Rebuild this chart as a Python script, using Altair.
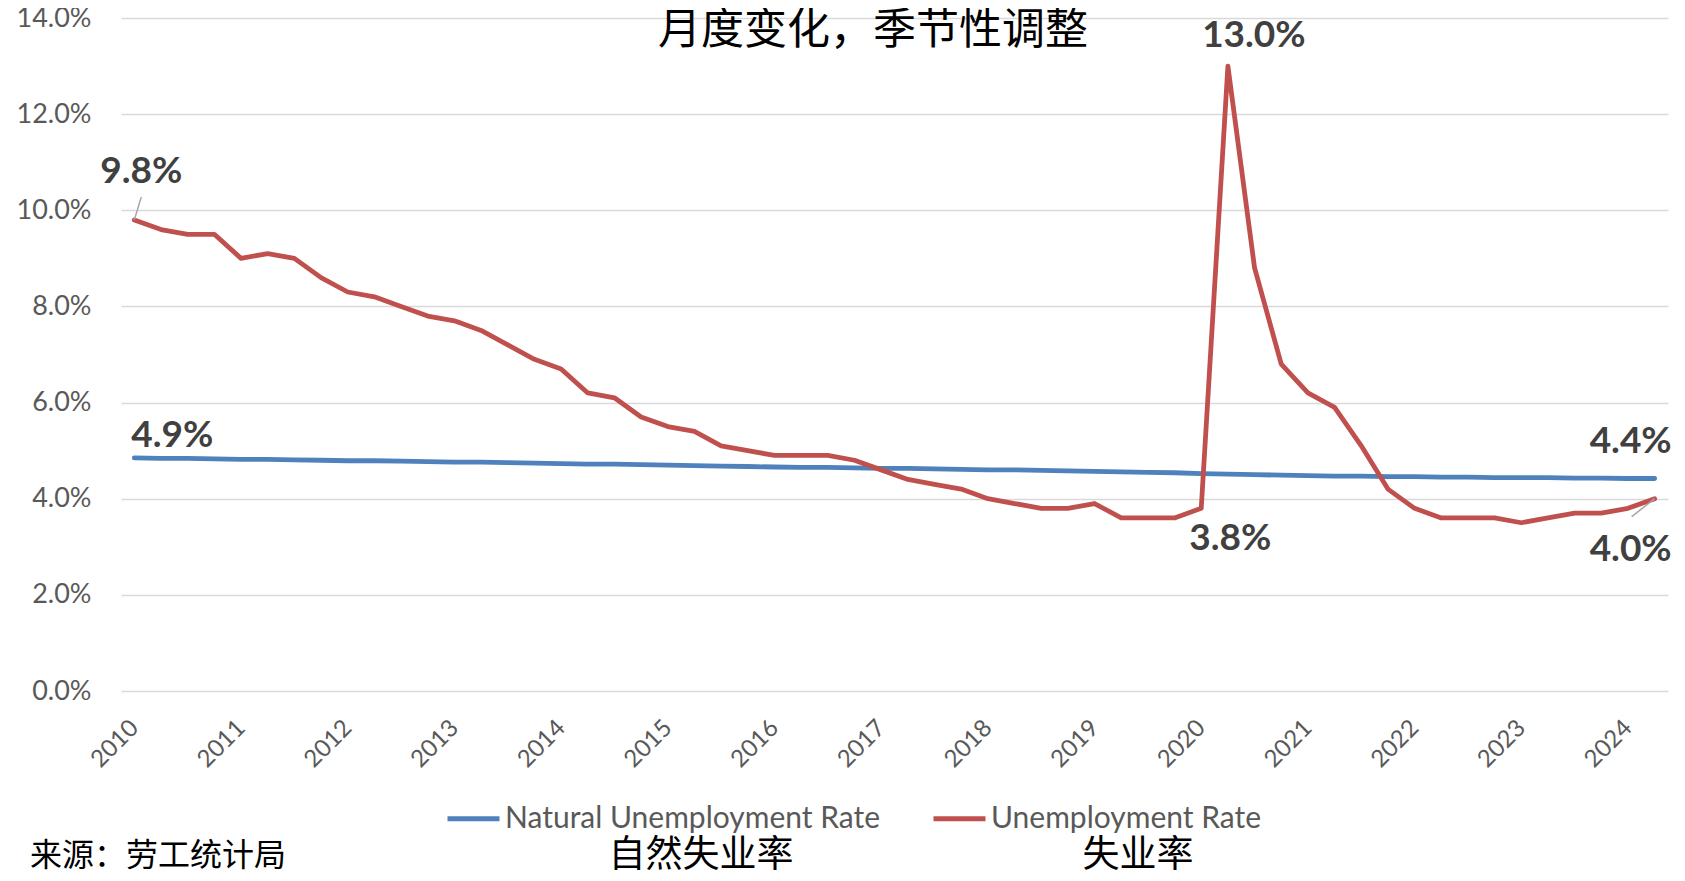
import altair as alt
import pandas as pd

# ---- data (quarterly 2010Q1 .. 2024Q2) ----
years = [y for y in range(2010, 2025) for _ in range(4)][:58]
quarters = [q for _ in range(2010, 2025) for q in range(1, 5)][:58]

unemployment = [
    9.8, 9.6, 9.5, 9.5,
    9.0, 9.1, 9.0, 8.6,
    8.3, 8.2, 8.0, 7.8,
    7.7, 7.5, 7.2, 6.9,
    6.7, 6.2, 6.1, 5.7,
    5.5, 5.4, 5.1, 5.0,
    4.9, 4.9, 4.9, 4.8,
    4.6, 4.4, 4.3, 4.2,
    4.0, 3.9, 3.8, 3.8,
    3.9, 3.6, 3.6, 3.6,
    3.8, 13.0, 8.8, 6.8,
    6.2, 5.9, 5.1, 4.2,
    3.8, 3.6, 3.6, 3.6,
    3.5, 3.6, 3.7, 3.7,
    3.8, 4.0,
]

natural = [
    4.85, 4.84, 4.84, 4.83,
    4.82, 4.82, 4.81, 4.80,
    4.79, 4.79, 4.78, 4.77,
    4.76, 4.76, 4.75, 4.74,
    4.73, 4.72, 4.72, 4.71,
    4.70, 4.69, 4.68, 4.67,
    4.66, 4.65, 4.65, 4.64,
    4.63, 4.63, 4.62, 4.61,
    4.60, 4.60, 4.59, 4.58,
    4.57, 4.56, 4.55, 4.54,
    4.52, 4.51, 4.50, 4.49,
    4.48, 4.47, 4.47, 4.46,
    4.46, 4.45, 4.45, 4.44,
    4.44, 4.44, 4.43, 4.43,
    4.42, 4.42,
]

series_names = ["Natural Unemployment Rate", "Unemployment Rate"]
series_colors = ["#4F81BD", "#C0504D"]
year_ticks = list(range(2010, 2025))
y_ticks = [0, 0.02, 0.04, 0.06, 0.08, 0.10, 0.12, 0.14]

title_text = "月度变化，季节性调整"
source_text = "来源：劳工统计局"
cn_natural = "自然失业率"
cn_unemp = "失业率"

# annotations: (label, series, quarter index)
ann_labels = ["9.8%", "4.9%", "13.0%", "3.8%", "4.4%", "4.0%"]
ann_series = [1, 0, 1, 1, 0, 1]
ann_index = [0, 0, 41, 40, 57, 57]

# ---- build tables ----
t_vals = [y + (q - 1) / 4 for y, q in zip(years, quarters)]
rows = []
for t, n, u in zip(t_vals, natural, unemployment):
    rows.append({"t": t, "v": n / 100, "series": series_names[0]})
    rows.append({"t": t, "v": u / 100, "series": series_names[1]})
df = pd.DataFrame(rows)

def ann_df(k):
    s = ann_series[k]
    i = ann_index[k]
    vals = natural if s == 0 else unemployment
    return pd.DataFrame([{"t": t_vals[i], "v": vals[i] / 100, "label": ann_labels[k]}])

LABEL_FONT = "Lato"
CJK_FONT = "Noto Sans CJK SC"

x_enc = alt.X(
    "t:Q",
    scale=alt.Scale(domain=[2009.875, 2024.375], nice=False, zero=False),
    axis=alt.Axis(
        values=year_ticks, format="d", labelAngle=-45, labelAlign="right",
        labelBaseline="middle", labelPadding=33, grid=False, ticks=False,
        tickSize=0, domain=False, labelFontSize=24, labelColor="#595959",
        labelFont=LABEL_FONT, title=None, labelOverlap=False, labelFlush=False,
    ),
)
y_enc = alt.Y(
    "v:Q",
    scale=alt.Scale(domain=[0, 0.14], nice=False),
    axis=alt.Axis(
        values=y_ticks, format=".1%", grid=True, gridColor="#D9D9D9",
        gridWidth=1.5, ticks=False, tickSize=0, domain=False,
        labelPadding=30, labelFontSize=27, labelColor="#595959",
        labelFont=LABEL_FONT, title=None,
    ),
)

lines = alt.Chart(df).mark_line(strokeWidth=4.8, strokeJoin="round", strokeCap="round").encode(
    x=x_enc,
    y=y_enc,
    color=alt.Color(
        "series:N",
        scale=alt.Scale(domain=series_names, range=series_colors),
        legend=alt.Legend(
            title=None, orient="none", legendX=324, legendY=772,
            direction="horizontal", symbolType="stroke", symbolStrokeWidth=5,
            symbolSize=2704, labelFontSize=30, labelFont=LABEL_FONT,
            labelColor="#595959", labelOffset=3, columnPadding=42,
            padding=0, labelLimit=1000,
        ),
    ),
)

ann_style = dict(font=LABEL_FONT, fontSize=37, fontWeight="bold", color="#404040")
ann_pos = [
    dict(dx=7, dy=-37, align="center", baseline="alphabetic"),
    dict(dx=-3, dy=-11, align="left", baseline="alphabetic"),
    dict(dx=26, dy=-19, align="center", baseline="alphabetic"),
    dict(dx=29, dy=42, align="center", baseline="alphabetic"),
    dict(dx=-24, dy=-26, align="center", baseline="alphabetic"),
    dict(dx=-24, dy=62, align="center", baseline="alphabetic"),
]
ann_layers = []
for k in range(len(ann_labels)):
    ann_layers.append(
        alt.Chart(ann_df(k)).mark_text(**ann_style, **ann_pos[k]).encode(
            x="t:Q", y="v:Q", text="label:N"
        )
    )

# leader lines (anchored on the data points, drawn as a small path symbol)
leader1 = alt.Chart(ann_df(0)).mark_point(
    shape="M0,0L0.304,-1", size=2116, filled=False, stroke="#A6A6A6", strokeWidth=1.5, opacity=1
).encode(x="t:Q", y="v:Q")
leader2 = alt.Chart(ann_df(5)).mark_point(
    shape="M0,0L-1,0.78", size=2116, filled=False, stroke="#A6A6A6", strokeWidth=1.5, opacity=1
).encode(x="t:Q", y="v:Q")

def free_text(txt, x, y, size, align="center"):
    return alt.Chart(pd.DataFrame({"label": [txt]})).mark_text(
        font=CJK_FONT, fontSize=size, color="#000000", align=align, baseline="middle"
    ).encode(x=alt.value(x), y=alt.value(y), text="label:N")

title_layer = free_text(title_text, 752, 13, 43)
source_layer = free_text(source_text, -91, 838, 32, align="left")
cn1_layer = free_text(cn_natural, 580, 838, 37)
cn2_layer = free_text(cn_unemp, 1017, 838, 37)

chart = alt.layer(
    lines, leader1, leader2, *ann_layers, title_layer, source_layer, cn1_layer, cn2_layer
).properties(
    width=1547,
    height=673,
    autosize=alt.AutoSizeParams(type="none"),
    padding={"left": 113, "top": 10, "right": 9, "bottom": 182},
    background="white",
).configure_view(stroke=None)

chart.save("out.html", embed_options={"renderer": "svg", "actions": False})
